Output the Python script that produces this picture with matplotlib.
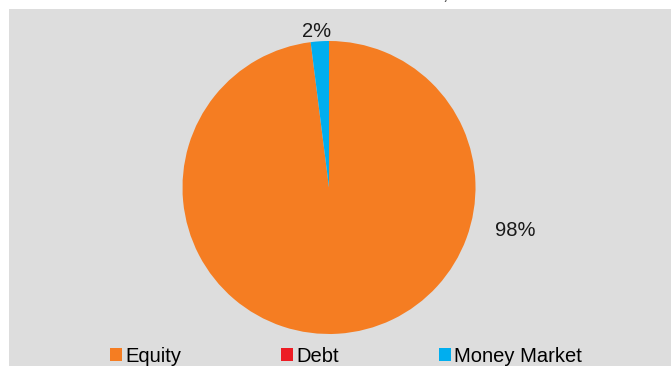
import matplotlib
matplotlib.use("Agg")
import matplotlib.pyplot as plt
from matplotlib.patches import Rectangle

plt.rcParams['font.family'] = ['Liberation Sans', 'DejaVu Sans']

categories = ["Equity", "Debt", "Money Market"]
shares = [98, 0, 2]
colors = ["#F57D22", "#ED1C24", "#00AEEF"]
title = "Asset Allocation Pattern as on 31st March, 2018"

W, H = 671, 366
fig = plt.figure(figsize=(W / 100, H / 100), dpi=100)
fig.patch.set_facecolor("white")

ax = fig.add_axes([0, 0, 1, 1])
ax.axis("off")

# grey chart panel behind the pie
ax.add_patch(Rectangle((9, 0), W - 9, H - 9, facecolor="#DDDDDD",
                       edgecolor="none", zorder=0))

wedges, texts, autotexts = ax.pie(
    shares, colors=colors, startangle=90, counterclock=False,
    center=(329, H - 187.5), radius=146.5,
    autopct=lambda p: f"{p:.0f}%" if p > 0.5 else "",
    pctdistance=1.07, textprops=dict(fontsize=14.5, color="#1a1a1a"),
    wedgeprops=dict(linewidth=0, zorder=1))
ax.set_xlim(0, W)
ax.set_ylim(0, H)
ax.set_aspect("equal")

# place the large slice's label outside, to the right
autotexts[0].set_position((515, H - 230))
autotexts[2].set_x(autotexts[2].get_position()[0] - 3)

fig.text(-6 / W, 1 + 1 / H, title, ha="left", va="baseline",
         fontsize=17.5, color="#595959")

leg = fig.legend(wedges, categories, loc="center", ncol=3,
                 bbox_to_anchor=(346 / W, 1 - 356 / H), frameon=False,
                 fontsize=14.5, handlelength=0.6, handleheight=0.6,
                 handletextpad=0.15, columnspacing=4.95, borderpad=0)

fig.savefig("out.png", dpi=100)
